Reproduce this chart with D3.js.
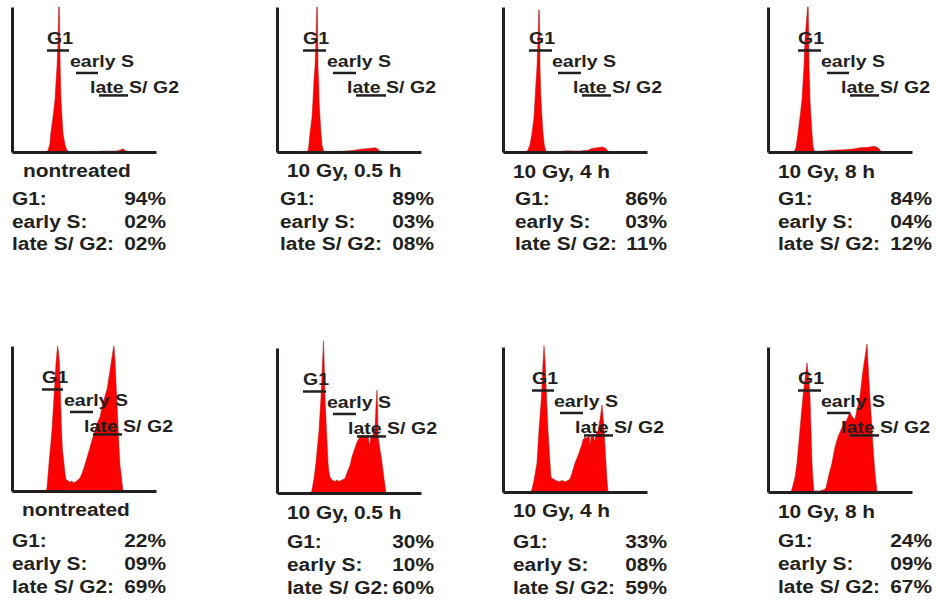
<!DOCTYPE html>
<html>
<head>
<meta charset="utf-8">
<script src="https://cdn.jsdelivr.net/npm/d3@7"></script>
<style>
  html, body { margin: 0; padding: 0; background: #fff; }
  svg { display: block; }
  text { font-family: "Liberation Sans", Arial, sans-serif; font-weight: bold; fill: #231f20; }
</style>
</head>
<body>
<svg id="chart" width="940" height="601"></svg>
<script>
// Panel captions (top row and bottom row)
const panelTitles = ["nontreated", "10 Gy, 0.5 h", "10 Gy, 4 h", "10 Gy, 8 h",
                     "nontreated", "10 Gy, 0.5 h", "10 Gy, 4 h", "10 Gy, 8 h"];
const phaseNames = ["G1:", "early S:", "late S/ G2:"];
const gateNames = ["G1", "early S", "late S/ G2"];

// Cell-cycle phase fractions (%)
const g1Pct    = [94, 89, 86, 84, 22, 30, 33, 24];
const earlySPct = [2, 3, 3, 4, 9, 10, 8, 9];
const lateSPct  = [2, 8, 11, 12, 69, 60, 59, 67];

// Gate ranges on the DNA-content channel axis
const gateG1    = [[35, 57], [26, 49], [26, 49], [30, 53], [30, 51], [26, 49], [29, 51], [30, 53]];
const gateEarly = [[64, 86], [56, 79], [55, 78], [59, 81], [58, 81], [56, 79], [57, 80], [59, 82]];
const gateLate  = [[87, 116], [79, 109], [79, 108], [82, 111], [81, 110], [80, 109], [81, 110], [82, 111]];
const gateLevels = [70, 54.5, 39];

// DNA histograms: [channel, relative cell count]
const histA1 = [[0,0],[35,0],[36.5,2],[38,6],[38.8,13],[41,24],[43,36],[44,48],[45,59],[46,75],[46.7,100],[47.3,100],[47.8,80],[48.2,59],[49,36],[50,24],[51,13],[53,5],[55,1],[57,0.3],[62,0.2],[70,0.4],[80,0.2],[90,0.5],[100,0.6],[106,0.8],[109,1.6],[111,2.2],[113,1],[116,0.3],[144,0]];
const histA2 = [[0,0],[30,0],[31.5,2],[33,13],[35,24],[36,36],[37,50],[38,59],[39,78],[39.8,100],[40.3,100],[40.7,80],[41,59],[41.8,45],[42,36],[43,24],[44,13],[45,5],[46.5,0.5],[55,0.3],[65,0.5],[76,1],[82,1.8],[88,2.2],[94,2.6],[98,3],[101,2],[103,0.4],[144,0]];
const histA3 = [[0,0],[23,0],[25,1.5],[27,5],[29,13],[31,24],[32,36],[33,48],[34,59],[35,78],[35.8,98],[36.3,98],[36.8,78],[37,59],[37.6,45],[38,36],[39,24],[40,13],[41.5,4],[43,0.5],[55,0.4],[65,0.8],[75,0.6],[85,1.2],[89,2.5],[94,3],[99,3.5],[103,2.5],[105,0.4],[144,0]];
const histA4 = [[0,0],[26,0],[28,3],[30,13],[32,24],[34,36],[35,48],[36,59],[37,78],[39.6,100],[40.2,100],[40.8,78],[41,59],[41.8,45],[42,36],[43,24],[44,13],[45,4],[46.5,0.4],[58,0.8],[65,1.2],[75,1.5],[85,2],[92,3],[100,3.2],[106,4],[110,3],[113,0.4],[144,0]];
const histB1 = [[0,0],[34,0],[35,2],[37,19],[40,42],[42,65],[44,88],[45.5,100],[46.5,96],[47.5,88],[48.5,65],[49.5,42],[50.5,28],[52,19],[53,12],[54,8],[56,7],[58,6],[60,7],[61,5.5],[63,6],[65,7],[68,9],[70,12],[72,16],[75,23],[78,30],[80,35],[83,42],[86,48],[88,51],[91,61],[95,70],[98,83],[101,97],[102,100],[103,90],[104,75],[105,60],[106,45],[107,30],[108,18],[110,6],[111,0],[144,0]];
const histB2 = [[0,0],[34,0],[35,2],[37,10],[39,21],[42,43],[44,66],[45.5,90],[46.5,105],[47.2,90],[48,66],[49.5,43],[51,21],[52,14],[53,11],[55,9],[58,8],[60,9],[62,8],[65,9],[68,10],[70,14],[73,19],[75,25],[78,31],[80,35],[83,39],[86,40],[89,39],[91,40],[92.5,32],[94,39],[96,40],[98,44],[99,60],[100,71],[100.6,60],[101,39],[103,30],[105,21],[107,10],[109,0],[144,0]];
const histB3 = [[0,0],[28,0],[29,2],[31,8],[34,20],[36,43],[38.5,66],[40,89],[41,101],[42.2,89],[43.5,66],[45,43],[47,20],[48,10],[50,9],[53,8],[56,7],[59,8],[62,7],[65,8],[67,9],[69,13],[72,20],[75,25],[77,29],[79,33],[80,36],[82,38],[84,37],[86,39],[87,32],[88,38],[90,39],[92,35],[93,40],[95,42],[97,50],[99,60],[100,52],[101,43],[103,20],[104,8],[105,0],[144,0]];
const histB4 = [[0,0],[23,0],[24,2],[27,10],[29,20],[32,43],[35,66],[37,78],[39,89],[40.5,80],[42,66],[43,43],[44,20],[45,8],[46,0],[48,1],[50,0.4],[53,1],[56,1.5],[58,3],[61,12],[64,20],[67,31],[70,38],[73,43],[76,47],[79,50],[82,55],[84,52],[87,50],[89,57],[92,66],[95,84],[97,93],[99,102],[100,89],[101.5,70],[103,54],[105,31],[107,13],[109,0],[144,0]];
const histograms = [histA1, histA2, histA3, histA4, histB1, histB2, histB3, histB4];

// Where each panel sits on the page
const layout = [
  {ox: 12,  base: 152, titleX: 23,  titleY: 177, statX: 12,  valX: 166, statY: 205},
  {ox: 277, base: 152, titleX: 287, titleY: 177, statX: 280, valX: 434, statY: 205},
  {ox: 503, base: 152, titleX: 513, titleY: 178, statX: 515, valX: 667, statY: 205},
  {ox: 768, base: 152, titleX: 778, titleY: 178, statX: 778, valX: 932, statY: 205},
  {ox: 12,  base: 491, titleX: 22,  titleY: 516, statX: 12,  valX: 166, statY: 547},
  {ox: 277, base: 493, titleX: 287, titleY: 519, statX: 287, valX: 434, statY: 548},
  {ox: 503, base: 492, titleX: 513, titleY: 517, statX: 513, valX: 667, statY: 548},
  {ox: 768, base: 492, titleX: 778, titleY: 518, statX: 778, valX: 932, statY: 547}
];
const rowGap = [22.5, 22.5, 22.5, 22.5, 23, 23, 23, 23];

const ink = "#231f20";
const fmtPct = v => d3.format("02d")(v) + "%";

const x = d3.scaleLinear().domain([0, 144]).range([0, 144]);
const y = d3.scaleLinear().domain([0, 100]).range([0, -145]);

const area = d3.area()
  .x(d => x(d[0]))
  .y0(y(0))
  .y1(d => y(d[1]))
  .curve(d3.curveLinear);

const svg = d3.select("#chart");

// Horizontally widened bold lettering
function wideText(g, str, px, py, size, stretch, anchor) {
  return g.append("text")
    .attr("transform", `translate(${px},${py}) scale(${stretch},1)`)
    .attr("font-size", size)
    .attr("text-anchor", anchor || "start")
    .text(str);
}

layout.forEach((L, i) => {
  const g = svg.append("g").attr("transform", `translate(${L.ox},${L.base})`);

  // histogram
  g.append("path")
    .datum(histograms[i])
    .attr("d", area)
    .attr("fill", "#ff0000")
    .attr("stroke", "#b01010")
    .attr("stroke-width", 0.5)
    .attr("stroke-linejoin", "round");

  // axes: y axis without ticks, x baseline
  g.append("g")
    .call(d3.axisLeft(y).ticks(0).tickSizeOuter(0))
    .call(a => a.select(".domain").attr("stroke", ink).attr("stroke-width", 3));
  g.append("g")
    .call(d3.axisBottom(x).ticks(0).tickSizeOuter(0))
    .call(a => a.select(".domain").attr("stroke", ink).attr("stroke-width", 3));

  // gates with labels
  const gates = [gateG1[i], gateEarly[i], gateLate[i]];
  const labelShift = [0, -6, -9];
  const labelLift = [6.5, 6, 2.5];
  gates.forEach((r, k) => {
    const gy = y(gateLevels[k]);
    wideText(g, gateNames[k], x(r[0]) + labelShift[k], gy - labelLift[k], 17, 1.15);
    g.append("line")
      .attr("x1", x(r[0])).attr("x2", x(r[1]))
      .attr("y1", gy).attr("y2", gy)
      .attr("stroke", ink).attr("stroke-width", 2.5);
  });

  // caption and phase percentages
  wideText(svg, panelTitles[i], L.titleX, L.titleY, 18, 1.16);
  const vals = [g1Pct[i], earlySPct[i], lateSPct[i]];
  phaseNames.forEach((name, k) => {
    const ty = L.statY + k * rowGap[i];
    wideText(svg, name, L.statX, ty, 18, 1.16);
    wideText(svg, fmtPct(vals[k]), L.valX, ty, 18, 1.16, "end");
  });
});
</script>
</body>
</html>
